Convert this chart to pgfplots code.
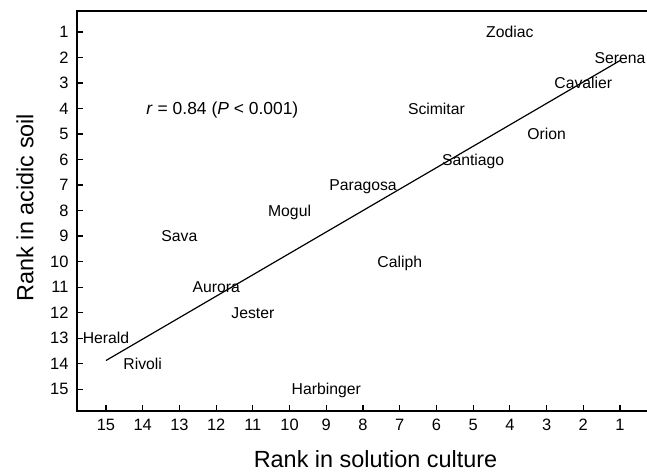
\documentclass[border=0pt]{standalone}
\usepackage{pgfplots}
\pgfplotsset{compat=1.18}
\usepackage{fontspec}
\setmainfont{Liberation Sans}

\pgfplotstableread{
x y label
4 1 Zodiac
1 2 Serena
2 3 Cavalier
6 4 Scimitar
3 5 Orion
5 6 Santiago
8 7 Paragosa
10 8 Mogul
13 9 Sava
7 10 Caliph
12 11 Aurora
11 12 Jester
15 13 Herald
14 14 Rivoli
9 15 Harbinger
}\cultivars

\begin{document}
\begin{tikzpicture}[x=1bp,y=1bp]
\begin{axis}[
  at={(0,0)}, anchor=south west,
  scale only axis, width=602bp, height=400bp,
  x dir=reverse, y dir=reverse,
  xmin=-0.607, xmax=15.79,
  ymin=0.176, ymax=15.86,
  xtick={1,...,15}, ytick={1,...,15},
  tick align=inside, tick pos=left,
  major tick length=6bp,
  axis line style={line width=1.3bp},
  tick style={line width=1.1bp, black},
  /pgf/number format/assume math mode=true,
  ticklabel style={font=\fontsize{16.5}{20}\selectfont},
  xticklabel style={yshift=-5bp},
  yticklabel style={xshift=-5bp},
  clip=false,
]
\addplot[draw=none, mark=none, nodes near coords, point meta=explicit symbolic,
  every node near coord/.style={anchor=base, yshift=-5.7bp, inner sep=0pt,
  font=\fontsize{15.8}{19}\selectfont}]
  table[meta=label] {\cultivars};
\addplot[black, line width=1.2bp, mark=none] coordinates {(15,13.88) (1,2.12)};
\node[anchor=base, yshift=-6.4bp, inner sep=0pt, font=\fontsize{17.5}{21}\selectfont]
  at (axis cs:11.83,4) {\textit{r} = 0.84 (\textit{P} < 0.001)};
\end{axis}
\node[anchor=base, inner sep=0pt, font=\fontsize{23.5}{28}\selectfont] at (298.5,-57) {Rank in solution culture};
\node[anchor=base, rotate=90, inner sep=0pt, font=\fontsize{23.5}{28}\selectfont] at (-43.5,203.5) {Rank in acidic soil};
\pgfresetboundingbox
\path (-77,-62) rectangle (570,411);
\end{tikzpicture}
\end{document}
